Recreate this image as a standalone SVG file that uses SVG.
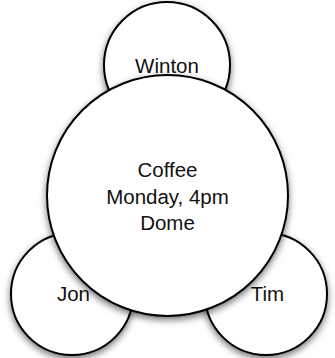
<svg xmlns="http://www.w3.org/2000/svg" width="335" height="358" viewBox="0 0 335 358">
<style>
.c{fill:#fff;stroke:#000;stroke-width:2;filter:url(#sh)}
.t{font-family:"Liberation Sans",Arial,sans-serif;font-size:20.5px;fill:#111;text-anchor:middle}
</style>
<defs>
<filter id="sh" x="-20%" y="-20%" width="140%" height="140%">
<feDropShadow dx="0" dy="3" stdDeviation="3.5" flood-color="#000" flood-opacity="0.55"/>
</filter>
</defs>
<g id="connectors"></g>
<g id="winton">
<circle class="c" cx="167" cy="65" r="63"/>
<text class="t" x="167" y="73">Winton</text>
</g>
<g id="jon">
<circle class="c" cx="72" cy="294" r="61"/>
<text class="t" x="73.5" y="301">Jon</text>
</g>
<g id="tim">
<circle class="c" cx="266" cy="294" r="61"/>
<text class="t" x="267.5" y="301">Tim</text>
</g>
<g id="coffee">
<circle class="c" cx="167.5" cy="195.5" r="120.5"/>
<text class="t" x="167.5" y="177">Coffee</text>
<text class="t" x="167.5" y="203.5">Monday, 4pm</text>
<text class="t" x="167.5" y="230">Dome</text>
</g>
</svg>
